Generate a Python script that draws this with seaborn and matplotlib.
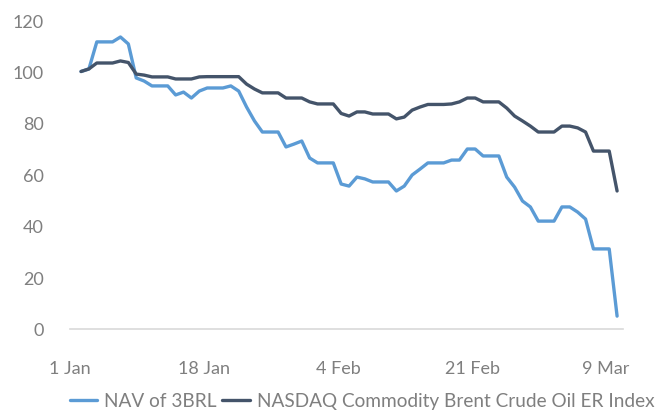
import numpy as np
import pandas as pd
import matplotlib
matplotlib.use("Agg")
import matplotlib.pyplot as plt
import seaborn as sns

# ---- data (daily, 1 Jan 2020 .. 9 Mar 2020, weekends carry Friday's value) ----
start_date = "2020-01-01"
end_date = "2020-03-09"

nav_3brl = [
    100.0, 101.0, 111.5, 111.5, 111.5, 113.4, 110.7, 97.5, 96.3, 94.4,
    94.4, 94.4, 90.9, 92.0, 89.7, 92.4, 93.6, 93.6, 93.6, 94.4,
    92.4, 86.2, 80.8, 76.5, 76.5, 76.5, 70.7, 71.8, 73.0, 66.4,
    64.5, 64.5, 64.5, 56.3, 55.5, 59.0, 58.3, 57.1, 57.1, 57.1,
    53.6, 55.5, 59.8, 62.1, 64.5, 64.5, 64.5, 65.6, 65.6, 69.9,
    69.9, 67.2, 67.2, 67.2, 59.0, 55.1, 49.7, 47.4, 41.9, 41.9,
    41.9, 47.4, 47.4, 45.4, 42.7, 31.1, 31.1, 31.1, 5.0,
]

brent_index = [
    100.0, 101.0, 103.3, 103.3, 103.3, 104.1, 103.5, 99.0, 98.6, 97.9,
    97.9, 97.9, 97.1, 97.1, 97.1, 97.9, 98.0, 98.0, 98.0, 98.0,
    98.0, 95.1, 93.2, 91.7, 91.7, 91.7, 89.7, 89.7, 89.7, 88.2,
    87.4, 87.4, 87.4, 83.7, 82.7, 84.3, 84.3, 83.5, 83.5, 83.5,
    81.6, 82.3, 85.0, 86.2, 87.2, 87.2, 87.2, 87.4, 88.2, 89.7,
    89.7, 88.2, 88.2, 88.2, 85.8, 82.7, 80.8, 78.8, 76.5, 76.5,
    76.5, 78.8, 78.8, 78.1, 76.5, 69.1, 69.1, 69.1, 53.6,
]

series_names = ["NAV of 3BRL", "NASDAQ Commodity Brent Crude Oil ER Index"]
series_colors = ["#5b9bd5", "#44546a"]

tick_days = [0, 17, 34, 51, 68]
tick_labels = ["1 Jan", "18 Jan", "4 Feb", "21 Feb", "9 Mar"]
y_ticks = [0, 20, 40, 60, 80, 100, 120]

# ---- build long table ----
dates = pd.date_range(start_date, end_date, freq="D")
day_idx = np.arange(len(dates))
df = pd.concat([
    pd.DataFrame({"day": day_idx, "value": nav_3brl, "series": series_names[0]}),
    pd.DataFrame({"day": day_idx, "value": brent_index, "series": series_names[1]}),
], ignore_index=True)

# ---- style ----
sns.set_theme(style="white")
plt.rcParams["font.family"] = ["Lato", "DejaVu Sans"]
text_color = "#7f7f7f"

W, H = 659, 414
fig = plt.figure(figsize=(W / 100, H / 100), dpi=100)
ax = fig.add_axes([70 / W, 84 / H, 553 / W, 309 / H])

sns.lineplot(data=df, x="day", y="value", hue="series", hue_order=series_names,
             palette=series_colors, linewidth=2.4, ax=ax)

ax.set_xlim(-0.75, 68.75)
ax.set_ylim(0, 120)
ax.set_yticks(y_ticks)
ax.set_yticklabels([str(v) for v in y_ticks])
ax.set_xticks([d - 1.4 for d in tick_days])
ax.set_xticklabels(tick_labels)
ax.set_xlabel("")
ax.set_ylabel("")

for s in ["left", "top", "right"]:
    ax.spines[s].set_visible(False)
ax.spines["bottom"].set_color("#d9d9d9")
ax.spines["bottom"].set_linewidth(1.2)

ax.tick_params(axis="both", length=0, colors=text_color, labelsize=13)
ax.tick_params(axis="y", pad=19)
ax.tick_params(axis="x", pad=22)
ax.grid(False)

sns.move_legend(ax, loc="center", bbox_to_anchor=(362 / W, 12 / H),
                bbox_transform=fig.transFigure, ncol=2, frameon=False,
                title=None, fontsize=13.7, handlelength=1.45, handletextpad=0.35,
                columnspacing=0.3, borderpad=0, borderaxespad=0)
leg = ax.get_legend()
for t in leg.get_texts():
    t.set_color(text_color)
for l in leg.get_lines():
    l.set_linewidth(2.4)

fig.savefig("out.png", dpi=100)
